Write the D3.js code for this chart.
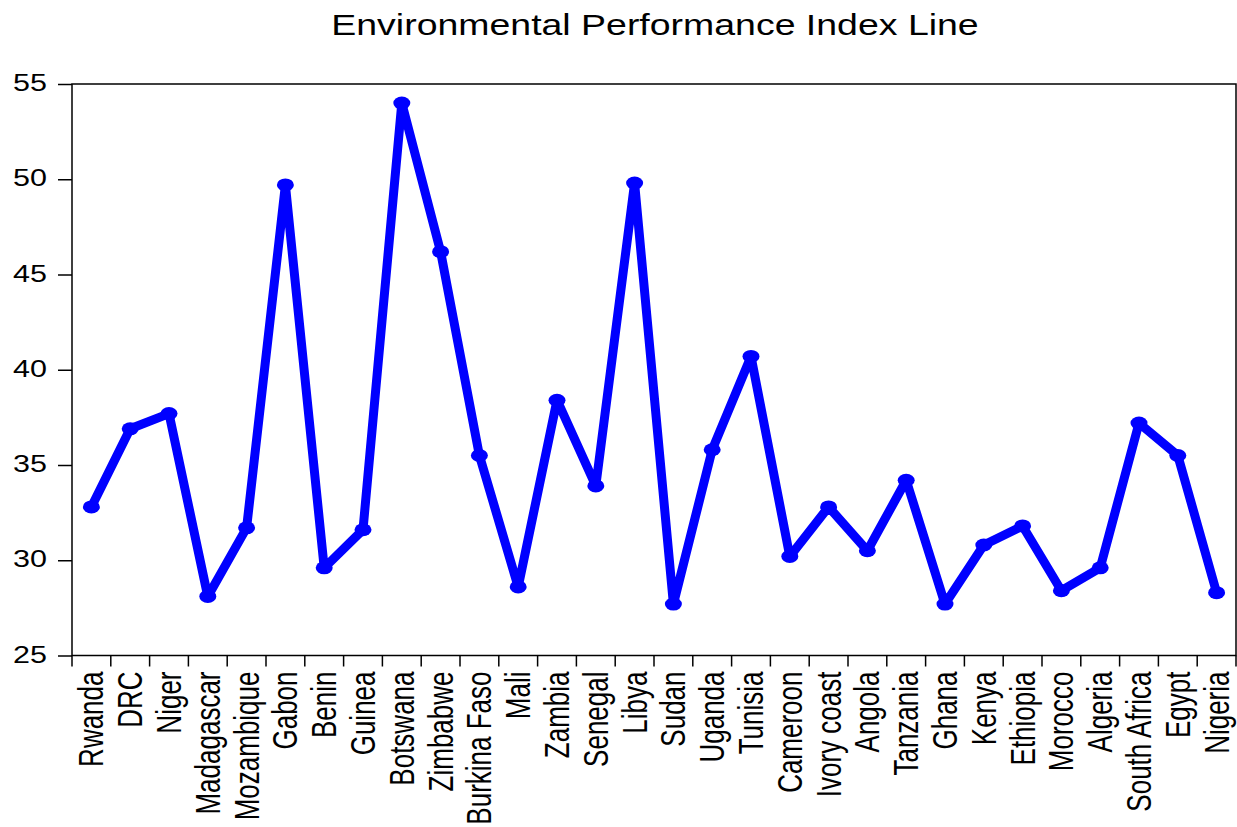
<!DOCTYPE html>
<html>
<head>
<meta charset="utf-8">
<script src="https://cdn.jsdelivr.net/npm/d3@7"></script>
<style>
  body { margin: 0; background: #fff; }
  text { font-family: "Liberation Sans", Arial, sans-serif; fill: #000; }
</style>
</head>
<body>
<div id="chart"></div>
<script>
// data
var countries = ["Rwanda", "DRC", "Niger", "Madagascar", "Mozambique", "Gabon", "Benin", "Guinea",
  "Botswana", "Zimbabwe", "Burkina Faso", "Mali", "Zambia", "Senegal", "Libya", "Sudan", "Uganda",
  "Tunisia", "Cameroon", "Ivory coast", "Angola", "Tanzania", "Ghana", "Kenya", "Ethiopia",
  "Morocco", "Algeria", "South Africa", "Egypt", "Nigeria"];
var epi = [32.8, 36.9, 37.7, 28.1, 31.7, 49.7, 29.6, 31.6, 54.0, 46.2, 35.5, 28.6, 38.4, 33.9,
  49.8, 27.7, 35.8, 40.7, 30.2, 32.8, 30.5, 34.2, 27.7, 30.8, 31.8, 28.4, 29.6, 37.2, 35.5, 28.3];
var yTicks = [25, 30, 35, 40, 45, 50, 55];
var title = "Environmental Performance Index Line";

var w = 1237, h = 827;
var margin = {top: 84, right: 1, bottom: 172, left: 72};
var stretch = 1.27; // the original's text is wider than it is tall

var svg = d3.select("#chart")
  .append("svg")
    .attr("width", w)
    .attr("height", h);

var x = d3.scaleBand()
  .domain(countries)
  .range([margin.left, w - margin.right])
  .padding(0);

var y = d3.scaleLinear()
  .domain([25, 55])
  .range([h - margin.bottom + 0.5, margin.top]);

var bottom = y(25);

// title
svg.append("text")
  .attr("transform", `translate(655, 35) scale(${stretch},1)`)
  .attr("text-anchor", "middle")
  .style("font-size", "29.5px")
  .text(title);

// y axis ticks
var yAxis = d3.axisLeft(y).tickValues(yTicks).tickSize(14).tickPadding(0);
var gy = svg.append("g")
  .attr("transform", `translate(${margin.left}, 0)`)
  .call(yAxis);
gy.select(".domain").remove();
gy.selectAll("line").attr("stroke", "#000").attr("stroke-width", 1.5);
gy.selectAll("text")
  .attr("x", -25 / stretch)
  .attr("dy", "0.28em")
  .attr("transform", `scale(${stretch},1)`)
  .style("font-size", "24px")
  .attr("font-family", null);

// x ticks at category boundaries
var bounds = countries.map(c => x(c)).concat([x.range()[1]]);
svg.append("g")
  .selectAll("line")
  .data(bounds)
  .join("line")
    .attr("x1", d => d)
    .attr("x2", d => d)
    .attr("y1", bottom)
    .attr("y2", bottom + 11)
    .attr("stroke", "#000")
    .attr("stroke-width", 1.5);

// x labels, rotated
svg.append("g")
  .selectAll("text")
  .data(countries)
  .join("text")
    .attr("transform", d => `translate(${x(d) + x.bandwidth() / 2}, ${bottom + 16}) scale(1.32,1) rotate(-90)`)
    .attr("text-anchor", "end")
    .attr("dy", "0.35em")
    .style("font-size", "26px")
    .text(d => d);

// frame
svg.append("rect")
  .attr("x", margin.left)
  .attr("y", margin.top)
  .attr("width", x.range()[1] - margin.left)
  .attr("height", bottom - margin.top)
  .attr("fill", "none")
  .attr("stroke", "#000")
  .attr("stroke-width", 1.5);

// the line
var pts = countries.map((c, i) => ({c: c, v: epi[i]}));
var line = d3.line()
  .x(d => x(d.c) + x.bandwidth() / 2)
  .y(d => y(d.v));

svg.append("path")
  .datum(pts)
  .attr("d", line)
  .attr("fill", "none")
  .attr("stroke", "#0000ff")
  .attr("stroke-width", 9)
  .attr("stroke-linejoin", "round");

svg.append("g")
  .selectAll("ellipse")
  .data(pts)
  .join("ellipse")
    .attr("cx", d => x(d.c) + x.bandwidth() / 2)
    .attr("cy", d => y(d.v))
    .attr("rx", 8.5)
    .attr("ry", 6.5)
    .attr("fill", "#0000ff");
</script>
</body>
</html>
